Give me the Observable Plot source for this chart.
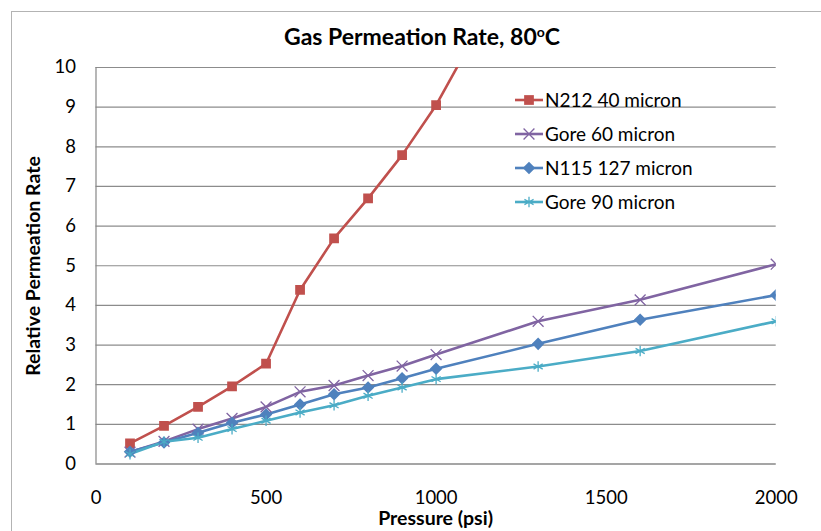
<!DOCTYPE html>
<html><head><meta charset="utf-8">
<script src="https://cdn.jsdelivr.net/npm/d3@7"></script>
<script src="https://cdn.jsdelivr.net/npm/@observablehq/plot@0.6"></script>
<style>body{margin:0;background:#fff;} svg{display:block;}</style>
</head><body><div id="chart"></div>
<script>
const seriesNames = ["N212 40 micron", "Gore 60 micron", "N115 127 micron", "Gore 90 micron"];
const seriesColors = ["#C0504D", "#8064A2", "#4F81BD", "#4BACC6"];
const seriesSymbols = ["square", "times", "square", "asterisk"];
const seriesRotate = [0, 0, 45, 0];
const pressureN212 = [100, 200, 300, 400, 500, 600, 700, 800, 900, 1000, 1100];
const pressureOther = [100, 200, 300, 400, 500, 600, 700, 800, 900, 1000, 1300, 1600, 2000];
const n212 = [0.52, 0.96, 1.44, 1.96, 2.53, 4.39, 5.69, 6.70, 7.79, 9.05, 10.6];
const gore60 = [0.30, 0.57, 0.88, 1.15, 1.44, 1.82, 1.98, 2.23, 2.47, 2.76, 3.60, 4.14, 5.04];
const n115 = [0.31, 0.54, 0.79, 1.04, 1.25, 1.50, 1.76, 1.93, 2.16, 2.40, 3.03, 3.64, 4.26];
const gore90 = [0.25, 0.56, 0.66, 0.88, 1.09, 1.30, 1.48, 1.72, 1.93, 2.14, 2.46, 2.85, 3.60];
const yTicks = [0, 1, 2, 3, 4, 5, 6, 7, 8, 9, 10];
const xTicks = [0, 500, 1000, 1500, 2000];

const rows = [];
n212.forEach((v, i) => rows.push({series: seriesNames[0], x: pressureN212[i], y: v}));
gore60.forEach((v, i) => rows.push({series: seriesNames[1], x: pressureOther[i], y: v}));
n115.forEach((v, i) => rows.push({series: seriesNames[2], x: pressureOther[i], y: v}));
gore90.forEach((v, i) => rows.push({series: seriesNames[3], x: pressureOther[i], y: v}));

const filledSeries = [seriesNames[0], seriesNames[2]];
const W = 821, H = 531;
const FONT = "Lato, 'Open Sans', sans-serif";

const dotMarks = seriesNames.map((name, i) => {
  const filled = filledSeries.includes(name);
  return Plot.dot(rows.filter(d => d.series === name), {
    x: "x", y: "y", symbol: "series",
    fill: filled ? "series" : "none",
    stroke: filled ? "none" : "series",
    strokeWidth: 1.3,
    r: filled ? (seriesRotate[i] ? 5 : 5.5) : 5,
    rotate: seriesRotate[i],
    clip: true
  });
});

const plot = Plot.plot({
  width: W, height: H,
  marginLeft: 95.5, marginRight: 45.3, marginTop: 67, marginBottom: 67.5,
  style: {fontFamily: FONT, fontSize: "18px", color: "#000", background: "#fff"},
  x: {domain: [0, 2000]},
  y: {domain: [0, 10]},
  color: {domain: seriesNames, range: seriesColors},
  symbol: {domain: seriesNames, range: seriesSymbols},
  marks: [
    Plot.gridY(yTicks, {stroke: "#8c8c8c", strokeOpacity: 1, strokeWidth: 1.2}),
    Plot.ruleX([0], {stroke: "#868686", strokeWidth: 1.2}),
    Plot.ruleY([0], {stroke: "#868686", strokeWidth: 1.2}),
    Plot.axisY(yTicks, {tickSize: 0, tickPadding: 20, label: null, fontSize: 18.5, tickFormat: d => String(d)}),
    Plot.axisX(xTicks, {tickSize: 0, tickPadding: 27, label: null, fontSize: 18.5, tickFormat: d => String(d)}),
    Plot.line(rows, {x: "x", y: "y", z: "series", stroke: "series", strokeWidth: 2.6, clip: true}),
    ...dotMarks
  ]
});
document.getElementById("chart").appendChild(plot);

const svg = d3.select(plot);
// chart border
svg.insert("rect", ":first-child").attr("x", 11.5).attr("y", 11.5).attr("width", 840).attr("height", 540)
  .attr("fill", "none").attr("stroke", "#b3b3b3").attr("stroke-width", 1);

// title
const t = svg.append("text").attr("x", 422).attr("y", 45).attr("text-anchor", "middle")
  .attr("font-family", FONT).attr("font-size", 23).attr("font-weight", "bold").attr("fill", "#000");
t.append("tspan").text("Gas Permeation Rate, 80");
t.append("tspan").attr("font-size", 14).attr("dy", -8).text("o");
t.append("tspan").attr("dy", 8).text("C");

// axis titles
svg.append("text").attr("transform", "translate(40,266) rotate(-90)").attr("text-anchor", "middle")
  .attr("font-family", FONT).attr("font-size", 19.5).attr("font-weight", "bold").text("Relative Permeation Rate");
svg.append("text").attr("x", 435.6).attr("y", 525).attr("text-anchor", "middle")
  .attr("font-family", FONT).attr("font-size", 19.5).attr("font-weight", "bold").text("Pressure (psi)");

// legend
const legendY = [100, 134, 168, 202];
const symMap = {square: d3.symbolSquare, times: d3.symbolTimes, asterisk: d3.symbolAsterisk};
const lg = svg.append("g");
seriesNames.forEach((name, i) => {
  const g = lg.append("g").attr("transform", `translate(0,${legendY[i]})`);
  g.append("line").attr("x1", 515).attr("x2", 543).attr("stroke", seriesColors[i]).attr("stroke-width", 2.6);
  const filled = filledSeries.includes(name);
  const r = filled ? (seriesRotate[i] ? 5 : 5.5) : 5;
  g.append("path").attr("transform", `translate(529,0) rotate(${seriesRotate[i]})`)
    .attr("d", d3.symbol(symMap[seriesSymbols[i]], Math.PI * r * r)())
    .attr("fill", filled ? seriesColors[i] : "none")
    .attr("stroke", filled ? "none" : seriesColors[i]).attr("stroke-width", 1.3);
  g.append("text").attr("x", 545).attr("y", 6.5).attr("text-anchor", "start")
    .attr("font-family", FONT).attr("font-size", 19).text(name);
});
</script>
</body></html>
